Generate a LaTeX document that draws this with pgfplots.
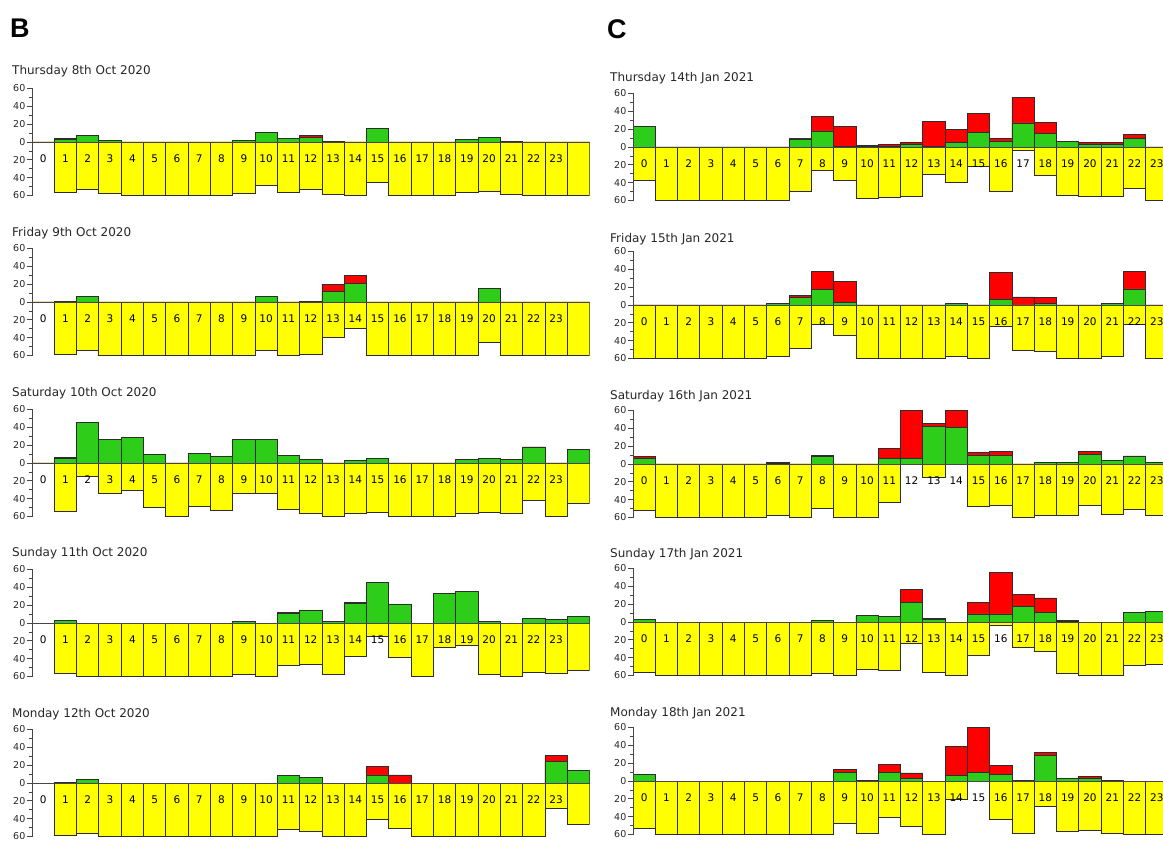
\documentclass[border=0pt]{standalone}
\usepackage{pgfplots}
\pgfplotsset{compat=1.18}
\usepackage{pgfplotstable}
\usepackage{fontspec}
\setmainfont{DejaVu Sans}
\newfontfamily\labfont{Liberation Sans}
\definecolor{bgreen}{RGB}{45,205,25}
\definecolor{byellow}{RGB}{255,255,0}
\definecolor{bred}{RGB}{255,0,0}
\definecolor{outl}{RGB}{45,45,45}
\definecolor{axgray}{RGB}{70,70,70}

% columns: h = hour slot, g = green, r = red (stacked on green), y = yellow (negative)
\pgfplotstableread{
h g r y
0 0 0 0
1 3 1 -56
2 7 0 -53
3 2 0 -58
4 0 0 -60
5 0 0 -60
6 0 0 -60
7 0 0 -60
8 0 0 -60
9 2 0 -58
10 11 0 -49
11 4 0 -56
12 5 2 -53
13 1 0 -59
14 0 0 -60
15 15 0 -45
16 0 0 -60
17 0 0 -60
18 0 0 -60
19 3 0 -57
20 5 0 -55
21 1 0 -59
22 0 0 -60
23 0 0 -60
24 0 0 -60
}\tBa
\pgfplotstableread{
h g r y
0 0 0 0
1 1 0 -59
2 6 0 -54
3 0 0 -60
4 0 0 -60
5 0 0 -60
6 0 0 -60
7 0 0 -60
8 0 0 -60
9 0 0 -60
10 6 0 -54
11 0 0 -60
12 1 0 -59
13 12 8 -40
14 21 9 -30
15 0 0 -60
16 0 0 -60
17 0 0 -60
18 0 0 -60
19 0 0 -60
20 15 0 -45
21 0 0 -60
22 0 0 -60
23 0 0 -60
24 0 0 -60
}\tBb
\pgfplotstableread{
h g r y
0 0 0 0
1 5 1 -54
2 45 0 -15
3 26 0 -34
4 29 0 -31
5 10 0 -50
6 0 0 -60
7 11 0 -49
8 7 0 -53
9 26 0 -34
10 26 0 -34
11 8 0 -52
12 4 0 -56
13 0 0 -60
14 3 0 -57
15 5 0 -55
16 0 0 -60
17 0 0 -60
18 0 0 -60
19 4 0 -56
20 5 0 -55
21 4 0 -56
22 18 0 -42
23 0 0 -60
24 15 0 -45
}\tBc
\pgfplotstableread{
h g r y
0 0 0 0
1 3 0 -57
2 0 0 -60
3 0 0 -60
4 0 0 -60
5 0 0 -60
6 0 0 -60
7 0 0 -60
8 0 0 -60
9 2 0 -58
10 0 0 -60
11 11 1 -48
12 14 0 -46
13 2 0 -58
14 22 1 -37
15 45 0 -15
16 21 0 -39
17 0 0 -60
18 33 0 -27
19 35 0 -25
20 2 0 -58
21 0 0 -60
22 5 0 -55
23 4 0 -56
24 7 0 -53
}\tBd
\pgfplotstableread{
h g r y
0 0 0 0
1 1 0 -59
2 4 0 -56
3 0 0 -60
4 0 0 -60
5 0 0 -60
6 0 0 -60
7 0 0 -60
8 0 0 -60
9 0 0 -60
10 0 0 -60
11 8 0 -52
12 6 0 -54
13 0 0 -60
14 0 0 -60
15 9 10 -41
16 0 9 -51
17 0 0 -60
18 0 0 -60
19 0 0 -60
20 0 0 -60
21 0 0 -60
22 0 0 -60
23 24 7 -29
24 14 0 -46
}\tBe
\pgfplotstableread{
h g r y
0 23 0 -37
1 0 0 -60
2 0 0 -60
3 0 0 -60
4 0 0 -60
5 0 0 -60
6 0 0 -60
7 9 1 -50
8 18 16 -26
9 1 22 -37
10 1 1 -58
11 1 2 -57
12 3 2 -55
13 1 28 -31
14 5 15 -40
15 16 22 -22
16 6 4 -50
17 27 29 -4
18 15 13 -32
19 6 0 -54
20 3 2 -55
21 3 2 -55
22 10 4 -46
23 0 0 -60
}\tCa
\pgfplotstableread{
h g r y
0 0 0 -60
1 0 0 -60
2 0 0 -60
3 0 0 -60
4 0 0 -60
5 0 0 -60
6 2 0 -58
7 8 3 -49
8 17 21 -22
9 3 23 -34
10 0 0 -60
11 0 0 -60
12 0 0 -60
13 0 0 -60
14 2 0 -58
15 0 0 -60
16 6 30 -24
17 0 9 -51
18 2 6 -52
19 0 0 -60
20 0 0 -60
21 2 0 -58
22 18 20 -22
23 0 0 -60
}\tCb
\pgfplotstableread{
h g r y
0 6 2 -52
1 0 0 -60
2 0 0 -60
3 0 0 -60
4 0 0 -60
5 0 0 -60
6 1 1 -58
7 0 0 -60
8 8 2 -50
9 0 0 -60
10 0 0 -60
11 6 11 -43
12 6 54 0
13 42 3 -15
14 41 19 0
15 10 3 -47
16 10 4 -46
17 0 0 -60
18 2 0 -58
19 2 0 -58
20 11 3 -46
21 4 0 -56
22 8 1 -51
23 2 0 -58
}\tCc
\pgfplotstableread{
h g r y
0 3 0 -57
1 0 0 -60
2 0 0 -60
3 0 0 -60
4 0 0 -60
5 0 0 -60
6 0 0 -60
7 0 0 -60
8 2 0 -58
9 0 0 -60
10 7 0 -53
11 6 0 -54
12 22 14 -24
13 3 1 -56
14 0 0 -60
15 9 13 -38
16 9 47 -4
17 17 14 -29
18 11 16 -33
19 1 1 -58
20 0 0 -60
21 0 0 -60
22 11 0 -49
23 12 0 -48
}\tCd
\pgfplotstableread{
h g r y
0 7 0 -53
1 0 0 -60
2 0 0 -60
3 0 0 -60
4 0 0 -60
5 0 0 -60
6 0 0 -60
7 0 0 -60
8 0 0 -60
9 10 3 -47
10 1 0 -59
11 10 9 -41
12 3 6 -51
13 0 0 -60
14 6 33 -21
15 10 50 0
16 7 10 -43
17 1 0 -59
18 29 3 -28
19 3 0 -57
20 3 2 -55
21 1 0 -59
22 0 0 -60
23 0 0 -60
}\tCe

\pgfplotsset{
  panel/.style={
    scale only axis, height=107pt, ymin=-60, ymax=60, xmin=-0.5,
    enlargelimits=false, axis on top, clip=true,
    axis x line*=middle, axis y line*=left,
    ytick={-60,-40,-20,0,20,40,60}, yticklabels={60,40,20,0,20,40,60},
    minor ytick={-50,-30,-10,10,30,50},
    tick align=outside, major tick length=5pt, minor tick length=3pt,
    xtick={0,...,23}, major x tick style={draw=none},
    every tick/.style={axgray, line width=0.7pt},
    /pgf/number format/assume math mode=true,
    yticklabel style={font=\fontsize{9.5}{10}\selectfont, text=black!85, inner sep=1.5pt},
    xticklabel style={font=\fontsize{10.5}{11}\selectfont, anchor=center, yshift=-12pt, inner sep=0pt},
    axis line style={line width=0.8pt, draw=axgray},
    anchor=west,
  },
  pY/.style={ybar, bar width=1, bar shift=0pt, fill=byellow, draw=outl, line width=0.8pt},
  pR/.style={ybar, bar width=1, bar shift=0pt, fill=bred, draw=outl, line width=0.8pt},
  pG/.style={ybar, bar width=1, bar shift=0pt, fill=bgreen, draw=outl, line width=0.8pt},
}

\newcommand{\panelB}[2]{%
\begin{axis}[panel, at={(32pt,-#1pt)}, width=557.5pt, xmax=24.5]
\addplot[pY] table[x=h, y=y]{#2};
\addplot[pR] table[x=h, y expr=\thisrow{g}+\thisrow{r}]{#2};
\addplot[pG] table[x=h, y=g]{#2};
\end{axis}}
\newcommand{\panelC}[2]{%
\begin{axis}[panel, at={(633pt,-#1pt)}, width=535pt, xmax=23.5]
\addplot[pY] table[x=h, y=y]{#2};
\addplot[pR] table[x=h, y expr=\thisrow{g}+\thisrow{r}]{#2};
\addplot[pG] table[x=h, y=g]{#2};
\end{axis}}
\newcommand{\ttl}[3]{\node[anchor=north west, inner sep=0pt, font=\fontsize{12}{14}\selectfont, text=black!85] at (#1pt,-#2pt) {#3};}

\begin{document}
\begin{tikzpicture}
\path[use as bounding box] (0,0) rectangle (1163pt,-842pt);
\node[anchor=north west, inner sep=0pt, font=\labfont\bfseries\fontsize{27}{30}\selectfont] at (10pt,-19pt) {B};
\node[anchor=north west, inner sep=0pt, font=\labfont\bfseries\fontsize{27}{30}\selectfont] at (607pt,-19pt) {C};

\ttl{12}{65}{Thursday 8th Oct 2020}
\ttl{12}{227}{Friday 9th Oct 2020}
\ttl{12}{387}{Saturday 10th Oct 2020}
\ttl{12}{547}{Sunday 11th Oct 2020}
\ttl{12}{708}{Monday 12th Oct 2020}
\ttl{610}{72}{Thursday 14th Jan 2021}
\ttl{610}{233}{Friday 15th Jan 2021}
\ttl{610}{390}{Saturday 16th Jan 2021}
\ttl{610}{548}{Sunday 17th Jan 2021}
\ttl{610}{707}{Monday 18th Jan 2021}

\panelB{142}{\tBa}
\panelB{302}{\tBb}
\panelB{463}{\tBc}
\panelB{623}{\tBd}
\panelB{783}{\tBe}
\panelC{147}{\tCa}
\panelC{305}{\tCb}
\panelC{464}{\tCc}
\panelC{622}{\tCd}
\panelC{781}{\tCe}
\end{tikzpicture}
\end{document}
